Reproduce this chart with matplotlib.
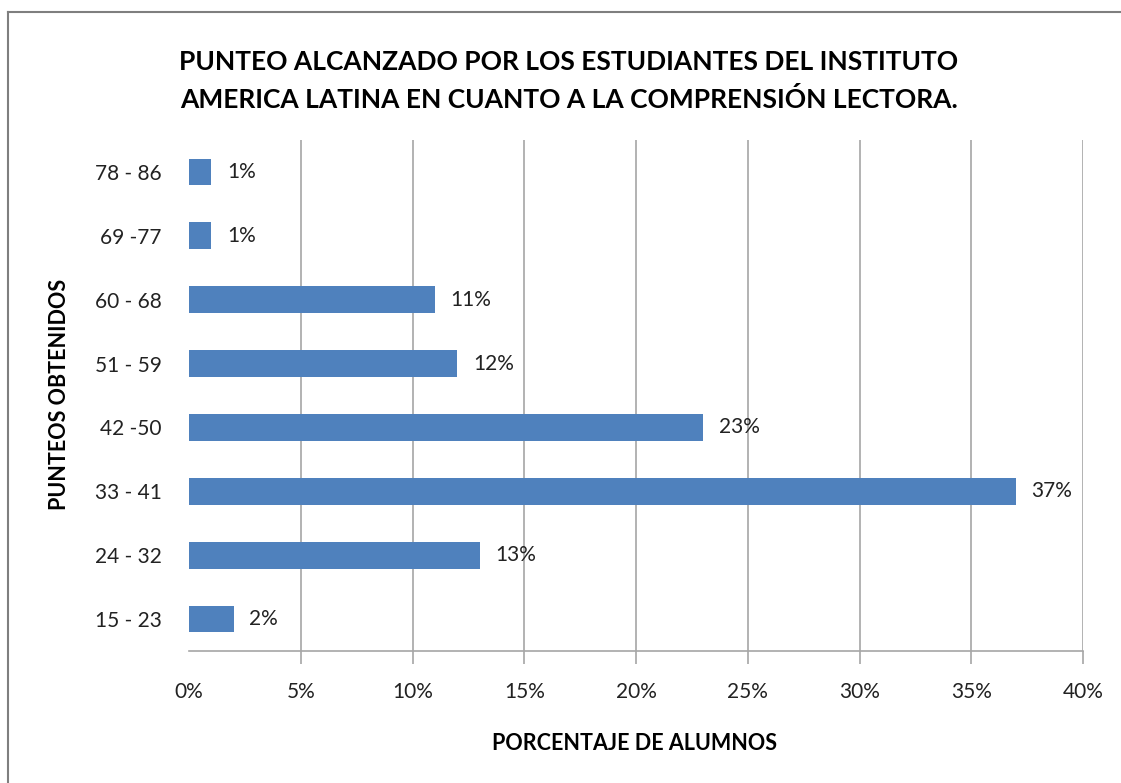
import matplotlib.pyplot as plt
import matplotlib.lines as mlines
import numpy as np

# Data
rangos = ["15 - 23", "24 - 32", "33 - 41", "42 -50", "51 - 59", "60 - 68", "69 -77", "78 - 86"]
porcentajes = [2, 13, 37, 23, 12, 11, 1, 1]
ticks_x = [0, 5, 10, 15, 20, 25, 30, 35, 40]

plt.rcParams['font.family'] = ['Lato', 'DejaVu Sans']

fig = plt.figure(figsize=(11.21, 7.83), dpi=100)
ax = fig.add_axes([189 / 1121, 1 - 651 / 783, (1083 - 189) / 1121, (651 - 140) / 783])

y = np.arange(len(rangos))
ax.barh(y, porcentajes, height=0.42, color="#4f81bd", zorder=3)

for i, v in enumerate(porcentajes):
    ax.text(v + 0.7, i, f"{v}%", va="center", ha="left", fontsize=15, color="#222222")

ax.set_xlim(0, 40)
ax.set_ylim(-0.5, len(rangos) - 0.5)
ax.set_xticks(ticks_x)
ax.set_xticklabels([f"{t}%" for t in ticks_x], fontsize=15, color="#222222")
ax.set_yticks(y)
ax.set_yticklabels(rangos, fontsize=15, color="#222222")

ax.grid(axis="x", color="#a6a6a6", linewidth=1.2, zorder=0)
ax.tick_params(axis="x", length=9, width=1.2, color="#a6a6a6", pad=13)
ax.tick_params(axis="y", length=0, pad=19.5)

# no tick mark / gridline at 0%
primer_tick = ax.xaxis.get_major_ticks()[0]
primer_tick.tick1line.set_visible(False)
primer_tick.gridline.set_visible(False)

for s in ["top", "right", "left"]:
    ax.spines[s].set_visible(False)
ax.spines["bottom"].set_color("#a6a6a6")
ax.spines["bottom"].set_linewidth(1.2)

# Titles and axis labels
fig.text(569 / 1121, 1 - 62 / 783, "PUNTEO ALCANZADO POR LOS ESTUDIANTES DEL INSTITUTO",
         ha="center", va="center", fontsize=19, fontweight="bold")
fig.text(569 / 1121, 1 - 100 / 783, "AMERICA LATINA EN CUANTO A LA COMPRENSIÓN LECTORA.",
         ha="center", va="center", fontsize=19, fontweight="bold")
fig.text(59 / 1121, 1 - 394 / 783, "PUNTEOS OBTENIDOS", rotation=90,
         ha="center", va="center", fontsize=15.5, fontweight="bold")
fig.text(634 / 1121, 1 - 744 / 783, "PORCENTAJE DE ALUMNOS",
         ha="center", va="center", fontsize=15.5, fontweight="bold")

# Outer chart border (only top and left visible in the reference)
fig.add_artist(mlines.Line2D([8 / 1121, 1], [1 - 12 / 783, 1 - 12 / 783], color="#7f7f7f", linewidth=1.5))
fig.add_artist(mlines.Line2D([8 / 1121, 8 / 1121], [0, 1 - 12 / 783], color="#7f7f7f", linewidth=1.5))

fig.savefig("out.png", dpi=100)
